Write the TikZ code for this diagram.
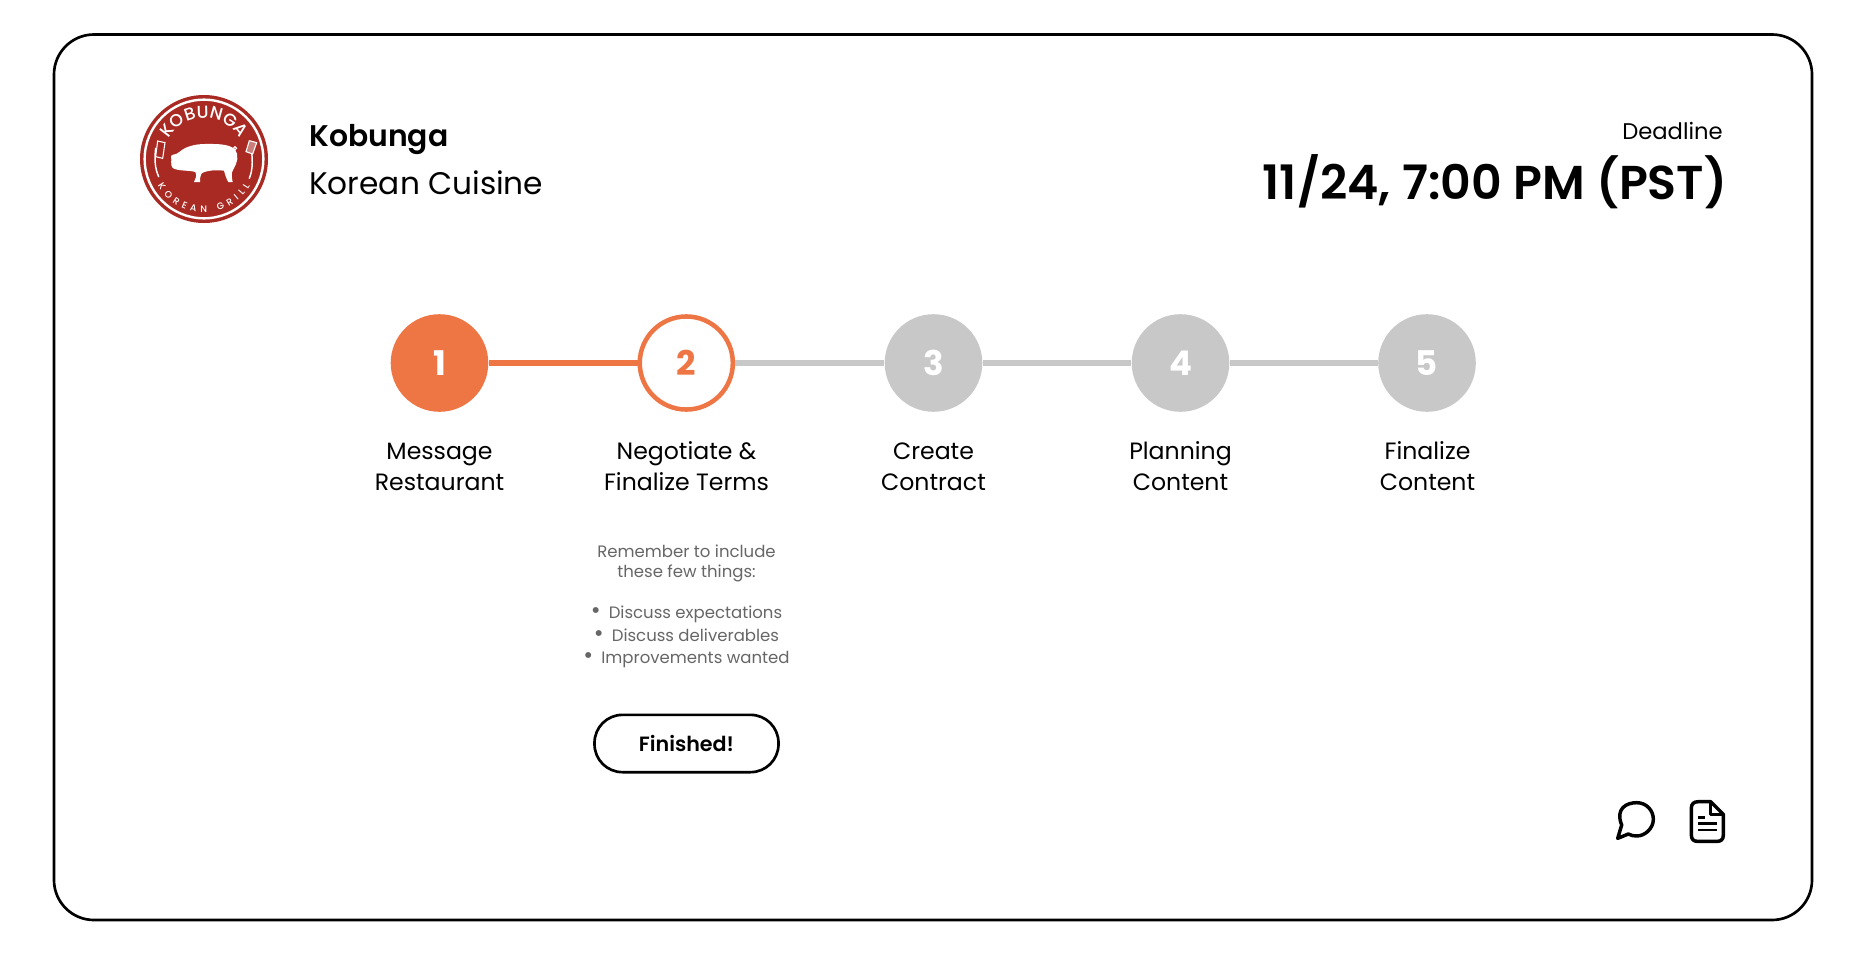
\documentclass[tikz,border=0pt]{standalone}
\usepackage{fontspec}
\setmainfont{Poppins}
\newfontfamily\semib{Poppins SemiBold}
\newfontfamily\medf{Poppins Medium}
\usetikzlibrary{decorations.text}
\definecolor{orng}{HTML}{EE7644}
\definecolor{lgray}{HTML}{C8C8C8}
\definecolor{tgray}{HTML}{666666}
\definecolor{logored}{HTML}{A92A23}
\newcommand{\fpt}[2]{\fontsize{#1}{#2}\selectfont}
\newcommand{\lab}[2]{\strut #1\\\strut #2}
\newcommand{\bul}{{\fontsize{18}{15}\selectfont •}\hspace{6pt}}
\tikzset{
 stepdone/.style={circle,fill=orng,minimum size=73.2pt,inner sep=0pt,text=white,font=\fpt{25.5}{30}\bfseries},
 stepcur/.style={circle,draw=orng,line width=3.4pt,fill=white,minimum size=69.8pt,inner sep=0pt,text=orng,font=\fpt{25.5}{30}\bfseries},
 steptodo/.style={circle,fill=lgray,minimum size=73.2pt,inner sep=0pt,text=white,font=\fpt{25.5}{30}\bfseries},
 steplabel/.style={align=center,font=\fpt{17.7}{22.9},text=black},
 note/.style={font=\fpt{12.4}{15},text=tgray,align=center},
 link/.style={line width=4.1pt},
}
\begin{document}
\begin{tikzpicture}[x=0.75pt,y=-0.75pt]
\useasboundingbox (0,0) rectangle (1862,974);
\fill[white] (0,0) rectangle (1862,974);
\draw[line width=2pt,rounded corners=30pt,black] (54,34.5) rectangle (1812,920);
% logo
\fill[logored] (204,159) circle[radius=48pt];
\draw[white,line width=1.8pt] (204,159) circle[radius=44.5pt];
\path[decorate,decoration={text along path,text align={fit to path},text={|\fontsize{13}{15}\medf\color{white}|KOBUNGA}}]
  (168.5,138.5) arc[start angle=150,end angle=30,radius=30.75pt];
\path[decorate,decoration={text along path,text align={fit to path},text={|\fontsize{7}{8}\medf\color{white}|KOREAN GRILL}}]
  (157.7,185.75) arc[start angle=210,end angle=330,radius=40pt];
\begin{scope}[shift={(120,80)},x=0.25pt,y=-0.25pt]
\fill[white] (153,228) .. controls (158,222) and (170,224) .. (178,216)
 .. controls (195,200) and (225,192) .. (255,192)
 .. controls (285,192) and (325,190) .. (345,208)
 .. controls (358,225) and (352,250) .. (340,268)
 .. controls (332,280) and (336,295) .. (338,306) -- (325,306)
 .. controls (318,295) and (316,285) .. (312,272)
 .. controls (290,270) and (262,270) .. (245,280)
 .. controls (240,290) and (240,298) .. (240,306) -- (222,306)
 .. controls (226,295) and (232,288) .. (226,276)
 .. controls (205,270) and (175,274) .. (158,264)
 .. controls (150,255) and (156,240) .. (153,228) -- cycle;
\draw[white,line width=0.8pt] (345,205) circle[radius=1.2pt];
\draw[white,line width=1.1pt,line cap=round] (107,205) .. controls (103,240) and (105,265) .. (116,290);
\draw[white,line width=0.8pt,fill=logored] (113,183) -- (135,188) -- (128,235) -- (107,230) -- cycle;
\draw[white,line width=1.1pt,line cap=round] (395,218) .. controls (398,245) and (398,270) .. (388,295);
\draw[white,line width=0.8pt,fill=white!40!logored] (388,182) -- (410,188) -- (398,222) -- (378,215) -- cycle;
\end{scope}
% header
\node[anchor=base west,inner sep=0pt,font=\fpt{22.4}{30}\semib] (name) at (309,146) {Kobunga};
\node[anchor=base west,inner sep=0pt,font=\fpt{23.4}{30}] (cuisine) at (309,194) {Korean Cuisine};
\node[anchor=base east,inner sep=0pt,font=\fpt{17}{22}] (dlabel) at (1723,139) {Deadline};
\node[anchor=base east,inner sep=0pt,font=\fpt{35.6}{40}\semib] (dval) at (1727.5,199) {11/24, 7:00 PM (PST)};
% steps
\node[stepdone] (s1) at (439.5,363) {1};
\node[stepcur] (s2) at (686.3,363) {2};
\node[steptodo] (s3) at (933.5,363) {3};
\node[steptodo] (s4) at (1180.5,363) {4};
\node[steptodo] (s5) at (1427,363) {5};
\draw[orng,link] (s1) -- (s2);
\draw[lgray,link] (s2) -- (s3);
\draw[lgray,link] (s3) -- (s4);
\draw[lgray,link] (s4) -- (s5);
\node[steplabel] (l1) at (439.5,469) {\lab{Message}{Restaurant}};
\node[steplabel] (l2) at (686.5,469) {\lab{Negotiate \&}{Finalize Terms}};
\node[steplabel] (l3) at (933.5,469) {\lab{Create}{Contract}};
\node[steplabel] (l4) at (1180.5,469) {\lab{Planning}{Content}};
\node[steplabel] (l5) at (1427.5,469) {\lab{Finalize}{Content}};
\node[note] (n0) at (686.5,563) {\lab{Remember to include}{these few things:}};
\node[note] (n1) at (686.5,614.5) {\strut\bul Discuss expectations};
\node[note] (n2) at (686.5,637) {\strut\bul Discuss deliverables};
\node[note] (n3) at (686.5,659.5) {\strut\bul Improvements wanted};
\node[draw=black,line width=2pt,rounded corners=21pt,minimum width=138pt,minimum height=43pt,inner sep=0pt,font=\fpt{15.5}{20}\semib] (btn) at (686.5,743.5) {Finished!};
% icons
\begin{scope}[shift={(1590,780)},x=0.25pt,y=-0.25pt]
\draw[black,line width=2.6pt,line join=round] (95,135) .. controls (75,85) and (110,68) .. (140,68) .. controls (170,68) and (190,92) .. (190,118) .. controls (190,145) and (165,168) .. (140,168) .. controls (130,168) and (122,166) .. (115,162) -- (83,175) -- cycle;
\draw[black,line width=2.6pt,line join=round] (325,65) -- (362,65) -- (400,103) -- (400,165) .. controls (400,178) and (393,184) .. (382,184) -- (322,184) .. controls (311,184) and (304,178) .. (304,165) -- (304,84) .. controls (304,72) and (311,65) .. (325,65) -- cycle;
\draw[black,line width=2.6pt,line join=round] (362,65) -- (362,103) -- (400,103);
\draw[black,line width=2.2pt] (325,112) -- (345,112) (325,130) -- (380,130) (325,150) -- (380,150);
\end{scope}
\end{tikzpicture}
\end{document}
